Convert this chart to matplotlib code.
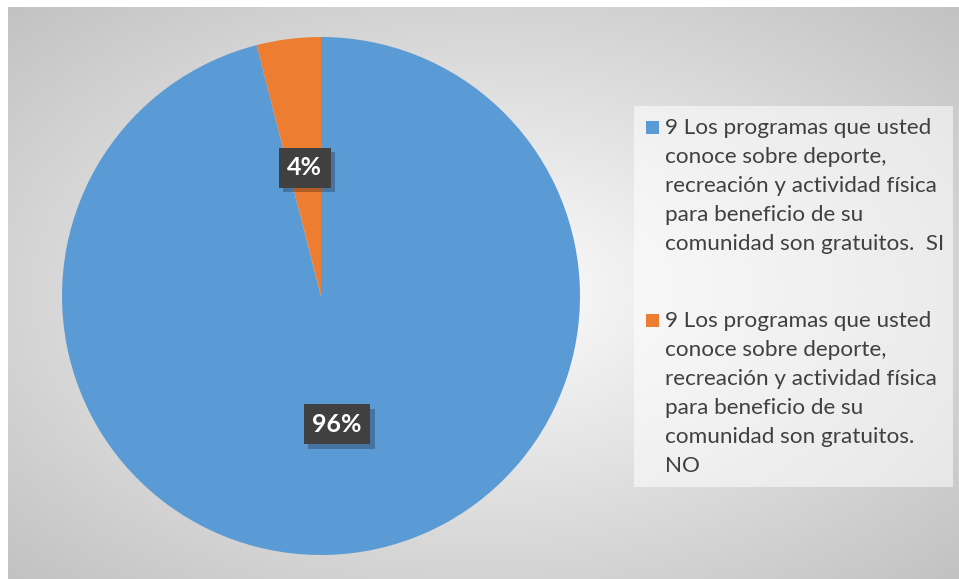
import numpy as np
import matplotlib
matplotlib.use("Agg")
import matplotlib.pyplot as plt
from matplotlib.patches import Rectangle
import matplotlib.patheffects as pe

categories = [
    "9 Los programas que usted\nconoce sobre deporte,\nrecreación y actividad física\npara beneficio de su\ncomunidad son gratuitos.  SI",
    "9 Los programas que usted\nconoce sobre deporte,\nrecreación y actividad física\npara beneficio de su\ncomunidad son gratuitos.\nNO",
]
values = [96, 4]
colors = ["#5B9BD5", "#ED7D31"]

W, H = 959, 579
fig = plt.figure(figsize=(W / 100, H / 100), dpi=100)
fig.patch.set_facecolor("white")

def fx(px):
    return px / W

def fy(py):
    return 1 - py / H

# background chart area with radial gradient
bg = fig.add_axes([fx(8), 0, fx(W - 8), fy(7)])
bg.set_axis_off()
nx, ny = 400, 240
xx, yy = np.meshgrid(np.linspace(-1, 1, nx), np.linspace(-1, 1, ny))
r = np.sqrt(xx ** 2 + yy ** 2) / np.sqrt(2)
c0, c1 = 253, 194
g = (c0 - (c0 - c1) * np.clip(r, 0, 1)) / 255.0
img = np.dstack([g, g, g])
bg.imshow(img, aspect="auto", extent=[0, 1, 0, 1], interpolation="bilinear")
bg.set_xlim(0, 1)
bg.set_ylim(0, 1)

# pie
cx, cy, R = 321, 296, 259
ax = fig.add_axes([fx(cx - R), fy(cy + R), fx(2 * R), (2 * R) / H])
wedges, texts, autotexts = ax.pie(
    values, colors=colors, startangle=90, counterclock=False,
    autopct=lambda p: f"{p:.0f}%", pctdistance=0.5,
    wedgeprops=dict(linewidth=0),
    textprops=dict(color="white", fontsize=18, fontweight="bold", family="Lato"),
)
ax.set_xlim(-1, 1)
ax.set_ylim(-1, 1)
ax.set_aspect("equal")

for t in autotexts:
    t.set_bbox(dict(boxstyle="square,pad=0.34", facecolor="#404040", edgecolor="none"))
    t.set_zorder(5)
    t.get_bbox_patch().set_path_effects([
        pe.SimplePatchShadow(offset=(3, -3), shadow_rgbFace="black", alpha=0.25),
        pe.Normal(),
    ])

# legend box
lg = fig.add_axes([0, 0, 1, 1], facecolor="none")
lg.set_axis_off()
lg.set_xlim(0, W)
lg.set_ylim(H, 0)
lg.add_patch(Rectangle((634, 106), 953 - 634, 487 - 106, facecolor="white", alpha=0.55,
                       edgecolor="none"))
line_h = 29
starts = [128, 321]
for lab, col, y0 in zip(categories, colors, starts):
    lg.add_patch(Rectangle((646, y0 - 7), 13, 13, facecolor=col, edgecolor="none"))
    for i, line in enumerate(lab.split("\n")):
        lg.text(665, y0 + i * line_h, line, fontsize=16.2, family="Lato", color="#404040",
                ha="left", va="center")

fig.savefig("out.png", dpi=100)
